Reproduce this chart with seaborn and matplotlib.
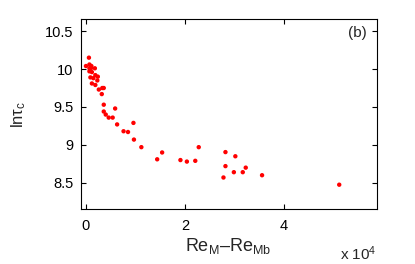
import matplotlib
matplotlib.use("Agg")
import matplotlib.pyplot as plt
import seaborn as sns
import pandas as pd
from matplotlib.ticker import FuncFormatter

# Re_M - Re_Mb (in units of 1e4) and ln(tau_c)
re_diff = [0.06, 0.00, 0.07, 0.11, 0.07, 0.10, 0.18, 0.07, 0.12, 0.19,
           0.24, 0.09, 0.15, 0.23, 0.12, 0.19, 0.26, 0.36, 0.33, 0.32,
           0.36, 0.59, 0.36, 0.40, 0.46, 0.54, 0.63, 0.96, 0.76, 0.85,
           0.97, 1.12, 1.54, 1.44, 1.91, 2.04, 2.21, 2.28, 2.82, 3.02,
           2.82, 2.99, 3.17, 3.23, 2.78, 3.56, 5.12]
ln_tau = [10.15, 10.04, 10.06, 10.04, 10.01, 10.01, 10.01, 9.97, 9.96, 9.92,
          9.90, 9.89, 9.88, 9.85, 9.81, 9.79, 9.73, 9.75, 9.75, 9.67,
          9.53, 9.48, 9.44, 9.40, 9.36, 9.36, 9.27, 9.29, 9.18, 9.17,
          9.07, 8.97, 8.90, 8.81, 8.80, 8.78, 8.79, 8.97, 8.905, 8.85,
          8.72, 8.64, 8.64, 8.70, 8.57, 8.60, 8.475]

df = pd.DataFrame({"re": [v * 1e4 for v in re_diff], "lntau": ln_tau})

sns.set_style("white")
plt.rcParams["font.family"] = ["Liberation Sans", "DejaVu Sans"]
plt.rcParams["mathtext.fontset"] = "custom"
plt.rcParams["mathtext.rm"] = "Liberation Sans"
plt.rcParams["mathtext.it"] = "Liberation Sans"
plt.rcParams["mathtext.sf"] = "Liberation Sans"
plt.rcParams["mathtext.default"] = "regular"

fig = plt.figure(figsize=(4.15, 2.64), dpi=100)
ax = fig.add_axes([0.194, 0.207, 0.714, 0.721])

sns.scatterplot(data=df, x="re", y="lntau", ax=ax, color="red",
                s=10, linewidth=0, edgecolor="none")

ax.set_xlim(-1100, 58800)
ax.set_ylim(8.15, 10.66)
ax.set_xticks([0, 20000, 40000])
ax.xaxis.set_major_formatter(FuncFormatter(lambda v, p: f"{v/1e4:g}"))
ax.set_yticks([8.5, 9, 9.5, 10, 10.5])
ax.yaxis.set_major_formatter(FuncFormatter(lambda v, p: f"{v:g}"))
ax.tick_params(direction="in", bottom=True, left=True, top=True, right=True,
               length=3.5, width=0.8, labelsize=10.5, colors="black", pad=5)
ax.tick_params(axis="x", pad=7)
for sp in ax.spines.values():
    sp.set_color("black")
    sp.set_linewidth(0.8)

ax.set_xlabel("Re$_{M}$\u2013Re$_{Mb}$", fontsize=13, labelpad=2)
ax.set_ylabel("ln$\\tau_c$", fontsize=12, labelpad=12)
ax.text(0.965, 0.925, "(b)", transform=ax.transAxes, ha="right", va="center",
        fontsize=11)
fig.text(0.908, 0.04, "x 10$^4$", fontsize=11, ha="right", va="center")

fig.savefig("out.png", dpi=100)
